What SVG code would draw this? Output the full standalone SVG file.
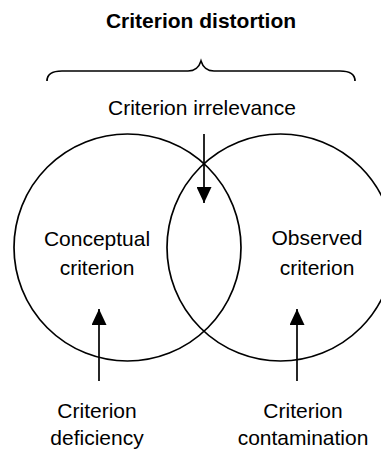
<svg xmlns="http://www.w3.org/2000/svg" width="381" height="454" viewBox="0 0 381 454">
<style>
text{font-family:"Liberation Sans",Arial,sans-serif;font-size:21px;fill:#000;text-anchor:middle}
.t{font-weight:bold}
.c{fill:none;stroke:#000;stroke-width:1.7}
.l{fill:none;stroke:#000;stroke-width:1.7}
</style>
<defs>
<marker id="ah" markerWidth="16" markerHeight="15" refX="16" refY="7.5" orient="auto" markerUnits="userSpaceOnUse" viewBox="0 0 16 15">
<path d="M0,0 L16,7.5 L0,15 Z" fill="#000"/>
</marker>
</defs>
<rect width="381" height="454" fill="#fff"/>
<g id="title"><text class="t" x="201" y="28">Criterion distortion</text></g>
<g id="brace"><path class="l" d="M47,81 C47,74 52,71 62,71 L188,71 C196,71 199,67 201,61 C203,67 206,71 214,71 L340,71 C350,71 355,74 355,81"/></g>
<g id="conceptual"><circle class="c" cx="127.5" cy="247.5" r="113.5"/><text x="97" y="246">Conceptual</text><text x="97" y="275">criterion</text></g>
<g id="observed"><circle class="c" cx="280.5" cy="247.5" r="113.5"/><text x="317" y="245">Observed</text><text x="317" y="275">criterion</text></g>
<g id="irrelevance"><text x="202" y="115">Criterion irrelevance</text></g>
<g id="deficiency"><text x="97" y="418">Criterion</text><text x="97" y="445">deficiency</text></g>
<g id="contamination"><text x="303" y="418">Criterion</text><text x="303" y="445">contamination</text></g>
<g id="connectors">
<line class="l" x1="204" y1="134" x2="204" y2="203" marker-end="url(#ah)"/>
<line class="l" x1="99" y1="381" x2="99" y2="309" marker-end="url(#ah)"/>
<line class="l" x1="297" y1="381" x2="297" y2="309" marker-end="url(#ah)"/>
</g>
</svg>
